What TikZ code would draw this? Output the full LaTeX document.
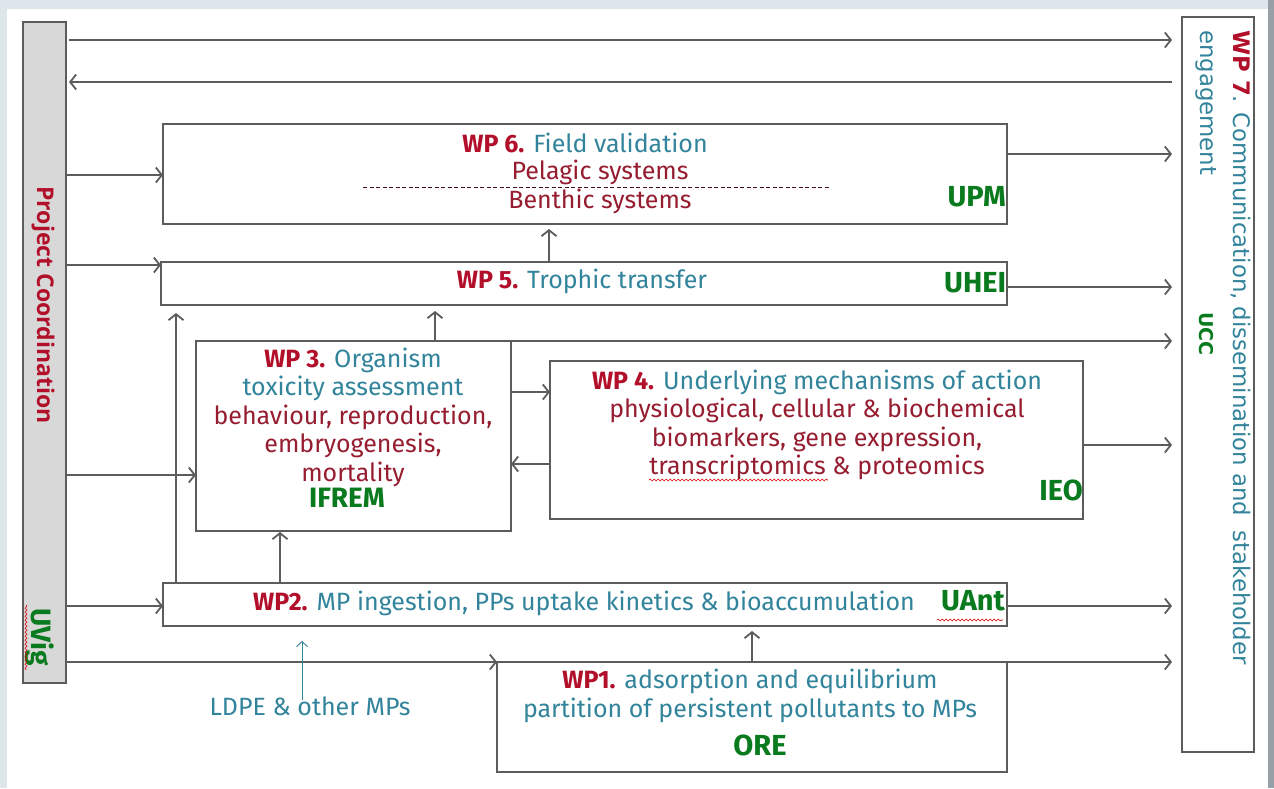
\documentclass[tikz,border=0pt]{standalone}
\usepackage{fontspec}
\setmainfont{Fira Sans}
\newfontfamily\wpsevenfont{DejaVu Sans}
\newfontfamily\pcfont{Open Sans}
\usetikzlibrary{arrows.meta,decorations.pathmorphing}
\definecolor{wpred}{RGB}{178,16,42}
\definecolor{txred}{RGB}{150,28,48}
\definecolor{txteal}{RGB}{49,132,155}
\definecolor{txgreen}{RGB}{10,122,30}
\definecolor{linegray}{RGB}{92,92,92}
\definecolor{bgblue}{RGB}{221,230,235}
\definecolor{bargray}{RGB}{216,216,216}
\definecolor{edgegray}{RGB}{150,160,166}
\newcommand\WPlab[1]{\textcolor{wpred}{\bfseries #1}}
\newcommand\Tt[1]{\textcolor{txteal}{#1}}
\newcommand\Tr[1]{\textcolor{txred}{#1}}
\begin{document}
\begin{tikzpicture}[x=1pt,y=-1pt,
  box/.style={draw=linegray, line width=1.8pt, fill=white, inner sep=0pt, outer sep=0pt},
  conn/.style={draw=linegray, line width=1.8pt, -{Straight Barb[length=6pt,width=15pt,line width=1.8pt]}},
  tealconn/.style={draw=txteal, line width=0.9pt, -{Straight Barb[length=5pt,width=11pt,line width=0.9pt]}},
  txt/.style={inner sep=0pt, align=center, font=\fontsize{25}{28.5}\selectfont},
  org/.style={inner sep=0pt, text=txgreen, font=\fontsize{29}{30}\selectfont\bfseries},
  wavy/.style={draw=red!85!black, line width=0.6pt, decorate, decoration={snake, amplitude=0.9pt, segment length=4pt}}
]
\useasboundingbox (0,0) rectangle (1274,788);
% background frame
\fill[bgblue] (0,0) rectangle (1274,788);
\fill[white] (7,9) rectangle (1268,788);
\fill[edgegray] (1268,0) rectangle (1274,788);

% boxes
\node[box, fill=bargray, minimum width=43pt, minimum height=661pt] (bar) at (44.5,352.5) {};
\node[box, minimum width=72pt, minimum height=735pt] (wp7) at (1218,384.5) {};
\node[box, minimum width=844pt, minimum height=100pt] (wp6) at (585,174) {};
\node[box, minimum width=846pt, minimum height=43pt] (wp5) at (584,283.5) {};
\node[box, minimum width=315pt, minimum height=190pt] (wp3) at (353.5,436) {};
\node[box, minimum width=533pt, minimum height=158pt] (wp4) at (816.5,440) {};
\node[box, minimum width=844pt, minimum height=43pt] (wp2) at (585,604.5) {};
\node[box, minimum width=510pt, minimum height=110pt] (wp1) at (752,717) {};

% helper levels
\coordinate (r40) at (0,40);
\coordinate (r82) at (0,82);
\coordinate (r154) at (0,154);
\coordinate (r175) at (0,175);
\coordinate (r265) at (0,265);
\coordinate (r287) at (0,287);
\coordinate (r392) at (0,392);
\coordinate (r445) at (0,445);
\coordinate (r464) at (0,464);
\coordinate (r475) at (0,475);
\coordinate (r606) at (0,606);
\coordinate (c176) at (176,0);
\coordinate (c280) at (280,0);
\coordinate (c435) at (435,0);
\coordinate (c549) at (549,0);
\coordinate (c752) at (752,0);

% coordination bar connectors
\draw[conn, shorten <=3pt, shorten >=10pt] (bar.east |- r40) -- (wp7.west |- r40);
\draw[conn, shorten <=10pt, shorten >=3pt] (wp7.west |- r82) -- (bar.east |- r82);
\draw[conn] (bar.east |- r175) -- (wp6.west |- r175);
\draw[conn] (bar.east |- r265) -- (wp5.west |- r265);
\draw[conn] (bar.east |- r475) -- (wp3.west |- r475);
\draw[conn] (bar.east |- r606) -- (wp2.west |- r606);
\draw[conn] (bar.east |- wp1.north west) -- (wp1.north west);

% to WP7
\draw[conn, shorten >=10pt] (wp6.east |- r154) -- (wp7.west |- r154);
\draw[conn, shorten >=10pt] (wp5.east |- r287) -- (wp7.west |- r287);
\draw[conn, shorten >=10pt] (wp3.north east) -- (wp7.west |- wp3.north east);
\draw[conn, shorten >=10pt] (wp4.east |- r445) -- (wp7.west |- r445);
\draw[conn, shorten >=10pt] (wp2.east |- r606) -- (wp7.west |- r606);
\draw[conn, shorten >=10pt] (wp1.north east) -- (wp7.west |- wp1.north east);

% vertical links
\draw[conn, shorten >=5pt] (wp5.north -| c549) -- (wp6.south -| c549);
\draw[conn, shorten >=6pt] (wp3.north -| c435) -- (wp5.south -| c435);
\draw[conn, shorten >=8pt] (wp2.north -| c176) -- (wp5.south -| c176);
\draw[conn, shorten >=1pt] (wp2.north -| c280) -- (wp3.south -| c280);
\draw[conn, shorten >=5pt] (wp1.north -| c752) -- (wp2.south -| c752);

% WP3 <-> WP4
\draw[conn] (wp3.east |- r392) -- (wp4.west |- r392);
\draw[conn] (wp4.west |- r464) -- (wp3.east |- r464);

% LDPE input
\node[txt, text=txteal] (ldpe) at (310,706) {LDPE \& other MPs};
\coordinate (ldpeend) at (302,700);
\draw[tealconn, shorten >=15pt] (ldpeend) -- (wp2.south -| ldpeend);

% Coordination bar text
\node[inner sep=0pt, rotate=-90, text=wpred, font=\pcfont\fontsize{23}{26}\selectfont\bfseries] (pctext) at (43,305) {Project Coordination};
\node[inner sep=0pt, rotate=-90, text=txgreen, font=\fontsize{28}{30}\selectfont\bfseries] (uvig) at (40,637) {UVig};
\draw[wavy] (26,605) -- (26,670);

% WP7 text
\node[inner sep=0pt, rotate=-90, anchor=north west, align=left, font=\wpsevenfont\fontsize{22.8}{33}\selectfont] (wp7text) at (1251,30)
  {\WPlab{WP 7}\Tt{. Communication, dissemination and\ \ stakeholder}\\ \Tt{engagement}};
\node[inner sep=0pt, rotate=-90, text=txgreen, font=\wpsevenfont\fontsize{19}{22}\selectfont\bfseries] (ucc) at (1206,334) {UCC};

% WP6 text
\node[txt] (wp6a) at (585,143) {\WPlab{WP 6.} \Tt{Field validation}};
\node[txt, text=txred] (wp6b) at (600,172) {Pelagic systems};
\node[txt, text=txred] (wp6c) at (600,201) {Benthic systems};
\draw[draw=txred!50!black, line width=0.8pt, dash pattern=on 4pt off 2.5pt] (363,187) -- (830,187);
\node[org, anchor=east] (upm) at (1006,197) {UPM};

% WP5 text
\node[txt] (wp5a) at (582,281) {\WPlab{WP 5.} \Tt{Trophic transfer}};
\node[org, anchor=west] (uhei) at (944,283) {UHEI};

% WP3 text
\node[txt] (wp3a) at (353,417) {\WPlab{WP 3.} \Tt{Organism}\\ \Tt{toxicity assessment}\\ \Tr{behaviour, reproduction,}\\ \Tr{embryogenesis,}\\ \Tr{mortality}};
\node[org, font=\fontsize{28}{30}\selectfont\bfseries] (ifrem) at (347,498) {IFREM};

% WP4 text
\node[txt] (wp4a) at (817,425) {\WPlab{WP 4.} \Tt{Underlying mechanisms of action}\\ \Tr{physiological, cellular \& biochemical}\\ \Tr{biomarkers, gene expression,}\\ \Tr{transcriptomics \& proteomics}};
\draw[wavy] (649,480) -- (828,480);
\node[org, anchor=east] (ieo) at (1083,490) {IEO};

% WP2 text
\node[txt] (wp2a) at (584,603) {\WPlab{WP2.} \Tt{MP ingestion, PPs uptake kinetics \& bioaccumulation}};
\node[org, anchor=east] (uant) at (1005,601) {UAnt};
\draw[wavy] (937,620) -- (1003,620);

% WP1 text
\node[txt] (wp1a) at (750,696) {\WPlab{WP1.} \Tt{adsorption and equilibrium}\\ \Tt{partition of persistent pollutants to MPs}};
\node[org] (ore) at (760,745) {ORE};
\end{tikzpicture}
\end{document}
